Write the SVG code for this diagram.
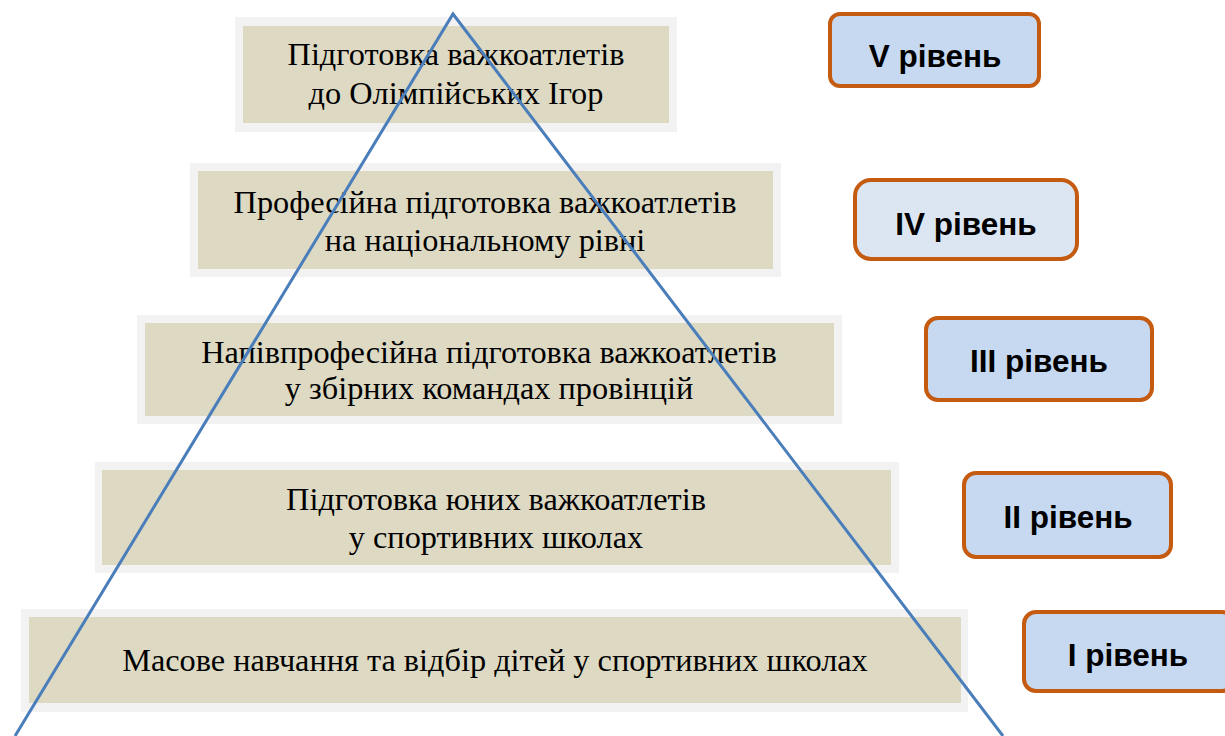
<svg xmlns="http://www.w3.org/2000/svg" width="1225" height="736" viewBox="0 0 1225 736">
<style>
.outer{fill:#f2f2f2}
.inner{fill:#ddd9c3}
.t{font-family:"Liberation Serif","Times New Roman",serif;font-size:32.3px;fill:#000;text-anchor:middle}
.lv{stroke:#c55a11;stroke-width:4;fill:#c6d9f1}
.lt{font-family:"Liberation Sans",Arial,sans-serif;font-weight:bold;font-size:31.5px;fill:#000;text-anchor:middle}
.edge{stroke:#4a7ebb;stroke-width:3;fill:none}
</style>
<rect width="1225" height="736" fill="#ffffff"/>
<g id="stage5">
<rect class="outer" x="235" y="17" width="442" height="115"/>
<rect class="inner" x="243" y="26" width="426" height="97"/>
<text class="t" x="456" y="65">Підготовка важкоатлетів</text>
<text class="t" x="456" y="104">до Олімпійських Ігор</text>
</g>
<g id="stage4">
<rect class="outer" x="190" y="163" width="591" height="114"/>
<rect class="inner" x="198" y="171" width="575" height="98"/>
<text class="t" x="485" y="213">Професійна підготовка важкоатлетів</text>
<text class="t" x="485" y="251">на національному рівні</text>
</g>
<g id="stage3">
<rect class="outer" x="137" y="315" width="705" height="109"/>
<rect class="inner" x="145" y="323" width="689" height="93"/>
<text class="t" x="489" y="363">Напівпрофесійна підготовка важкоатлетів</text>
<text class="t" x="489" y="399">у збірних командах провінцій</text>
</g>
<g id="stage2">
<rect class="outer" x="95" y="462" width="804" height="111"/>
<rect class="inner" x="102" y="470" width="789" height="95"/>
<text class="t" x="496" y="510">Підготовка юних важкоатлетів</text>
<text class="t" x="496" y="548">у спортивних школах</text>
</g>
<g id="stage1">
<rect class="outer" x="21" y="609" width="947" height="103"/>
<rect class="inner" x="29" y="617" width="932" height="86"/>
<text class="t" x="495" y="671">Масове навчання та відбір дітей у спортивних школах</text>
</g>
<g id="connectors">
<polyline class="edge" points="15,736 453,14 1003,736"/>
</g>
<g id="level5">
<rect class="lv" x="830" y="14" width="209" height="72" rx="10"/>
<text class="lt" x="935" y="67">V рівень</text>
</g>
<g id="level4">
<rect class="lv" x="855" y="180" width="222" height="79" rx="16" style="fill:#dce6f2"/>
<text class="lt" x="966" y="235">IV рівень</text>
</g>
<g id="level3">
<rect class="lv" x="926" y="318" width="226" height="82" rx="12"/>
<text class="lt" x="1039" y="372">III рівень</text>
</g>
<g id="level2">
<rect class="lv" x="964" y="473" width="207" height="84" rx="12"/>
<text class="lt" x="1068" y="528">II рівень</text>
</g>
<g id="level1">
<rect class="lv" x="1024" y="612" width="210" height="79" rx="12"/>
<text class="lt" x="1128" y="666">I рівень</text>
</g>
</svg>
